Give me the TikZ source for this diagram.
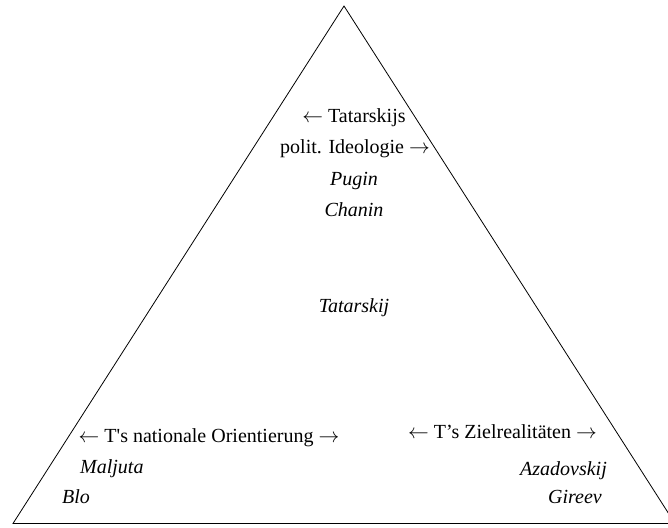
\documentclass[tikz,border=0pt]{standalone}
\usepackage{fontspec}
\setmainfont{Liberation Serif}
\begin{document}
\begin{tikzpicture}[x=1pt,y=-1pt,
  lbl/.style={inner sep=0pt,font=\fontsize{20}{22}\selectfont},
  nm/.style={lbl,font=\fontsize{20}{22}\selectfont\itshape}]
\useasboundingbox (0,0) rectangle (668,527);
\coordinate (apex) at (344,6);
\coordinate (bl) at (13,523.5);
\coordinate (br) at (675,523.5);
\draw[line width=0.8pt] (bl) -- (apex) -- (br) -- cycle;
\node[lbl,anchor=base] (t1) at (354,122) {$\leftarrow$ Tatarskijs};
\node[lbl,anchor=base] (t2) at (355,153.5) {polit. Ideologie $\rightarrow$};
\node[nm,anchor=base] (pug) at (354,185) {Pugin};
\node[nm,anchor=base] (cha) at (354,216.5) {Chanin};
\node[nm,anchor=base] (tat) at (354,312) {Tatarskij};
\node[lbl,anchor=base] (nat) at (209,442) {$\leftarrow$ T\textquotesingle s nationale Orientierung $\rightarrow$};
\node[nm,anchor=base west] (mal) at (80,473) {Maljuta};
\node[nm,anchor=base west] (blo) at (62,503) {Blo};
\node[lbl,anchor=base] (ziel) at (502.5,438) {$\leftarrow$ T’s Zielrealitäten $\rightarrow$};
\node[nm,anchor=base east] (aza) at (607,475) {Azadovskij};
\node[nm,anchor=base east] (gir) at (602,503) {Gireev};
\end{tikzpicture}
\end{document}
